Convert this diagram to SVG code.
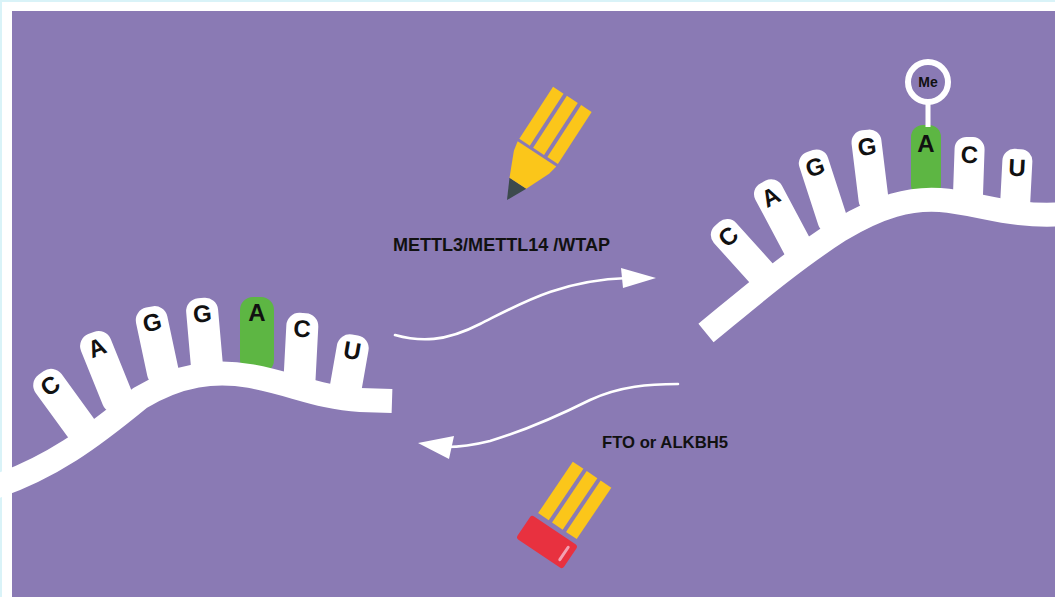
<svg xmlns="http://www.w3.org/2000/svg" width="1055" height="597" viewBox="0 0 1055 597">
  <defs>
    <style>
      .bb{fill:none;stroke:#fff;stroke-width:24;stroke-linecap:butt}
      .fw{fill:#fff}
      .fg{fill:#5db643}
      .nt{font-family:"Liberation Sans",Arial,sans-serif;font-weight:bold;font-size:24px;fill:#111;text-anchor:middle}
      .lbl{font-family:"Liberation Sans",Arial,sans-serif;font-weight:bold;fill:#111}
      .arr{fill:none;stroke:#fff;stroke-width:2.6;stroke-linecap:round}
      .yel{fill:#fbc61a}
    </style>
  </defs>

  <!-- background and frame -->
  <rect width="1055" height="597" fill="#8a7ab4"/>
  <path d="M0,0H1055V11H12V597H0Z" fill="#fff"/>
  <rect x="0" y="0" width="1055" height="2" fill="#d9f3f8"/>
  <rect x="0" y="0" width="2" height="597" fill="#d9f3f8"/>

  <!-- unmethylated RNA strand -->
  <g id="rna-left">
    <g transform="translate(41,373) rotate(-36)"><rect x="-16" y="0" width="32" height="80" rx="13" class="fw"/><text y="24" class="nt">C</text></g>
    <g transform="translate(91,333) rotate(-22)"><rect x="-16" y="0" width="32" height="84" rx="13" class="fw"/><text y="24" class="nt">A</text></g>
    <g transform="translate(149,307) rotate(-12)"><rect x="-16" y="0" width="32" height="80" rx="13" class="fw"/><text y="24" class="nt">G</text></g>
    <g transform="translate(201,298) rotate(-5)"><rect x="-16" y="0" width="32" height="80" rx="13" class="fw"/><text y="24" class="nt">G</text></g>
    <g transform="translate(257,297)"><rect x="-17" y="0" width="34" height="76" rx="13" class="fg"/><text y="24" class="nt">A</text></g>
    <g transform="translate(303,313) rotate(3)"><rect x="-16" y="0" width="32" height="80" rx="13" class="fw"/><text y="24" class="nt">C</text></g>
    <g transform="translate(355,335) rotate(10)"><rect x="-16" y="0" width="32" height="66" rx="13" class="fw"/><text y="24" class="nt">U</text></g>
    <path class="bb" d="M-15,490 C50,470 95,435 140,398 C180,374 215,370 250,376 C290,383 320,398 360,400 L392,401"/>
  </g>

  <!-- methylated RNA strand -->
  <g id="rna-right">
    <g transform="translate(717,224) rotate(-42)"><rect x="-15" y="0" width="30" height="82" rx="12" class="fw"/><text y="25" class="nt">C</text></g>
    <g transform="translate(763,182) rotate(-28)"><rect x="-15" y="0" width="30" height="88" rx="12" class="fw"/><text y="25" class="nt">A</text></g>
    <g transform="translate(810,151) rotate(-18)"><rect x="-15" y="0" width="30" height="85" rx="12" class="fw"/><text y="25" class="nt">G</text></g>
    <g transform="translate(865,130) rotate(-7)"><rect x="-15" y="0" width="30" height="82" rx="12" class="fw"/><text y="25" class="nt">G</text></g>
    <g transform="translate(926,125)"><rect x="-15" y="0" width="30" height="72" rx="12" class="fg"/><text y="27" class="nt">A</text></g>
    <g transform="translate(970,137) rotate(2)"><rect x="-15" y="0" width="30" height="75" rx="12" class="fw"/><text y="26" class="nt">C</text></g>
    <g transform="translate(1018,149) rotate(3)"><rect x="-15" y="0" width="30" height="70" rx="12" class="fw"/><text y="27" class="nt">U</text></g>
    <path class="bb" d="M706,333 C744,302 790,262 840,230 C880,206 910,198 940,200 C980,203 1010,218 1065,214"/>
    <!-- methyl tag -->
    <rect x="925.5" y="100" width="5" height="27" fill="#fff"/>
    <circle cx="928" cy="82" r="20" fill="#8a7ab4" stroke="#fff" stroke-width="6"/>
    <text x="928" y="87" class="lbl" font-size="14" text-anchor="middle">Me</text>
  </g>

  <!-- writer: pencil -->
  <g id="writer-pencil" transform="translate(507,200) rotate(33)">
    <polygon points="0,0 -10,-20 10,-20" fill="#3c4a4d"/>
    <polygon points="-10,-20 10,-20 21,-45 23,-55 -23,-55 -21,-45" class="yel"/>
    <rect x="-23" y="-120" width="12.5" height="62" class="yel"/>
    <rect x="-6.5" y="-120" width="13" height="62" class="yel"/>
    <rect x="10.5" y="-120" width="12.5" height="62" class="yel"/>
  </g>

  <!-- eraser: pencil end -->
  <g id="eraser" transform="translate(547,542) rotate(34)">
    <rect x="-23.5" y="-81" width="12.8" height="62" class="yel"/>
    <rect x="-6.7" y="-81" width="12.8" height="62" class="yel"/>
    <rect x="10.1" y="-81" width="12.9" height="62" class="yel"/>
    <rect x="-28" y="-14" width="56" height="28" rx="3" fill="#e8313f"/>
    <rect x="19" y="-9" width="3" height="18" rx="1.5" fill="#f3a1b2"/>
  </g>

  <!-- labels -->
  <g id="label-writers">
    <text x="393" y="251" class="lbl" font-size="18" textLength="217" lengthAdjust="spacingAndGlyphs">METTL3/METTL14 /WTAP</text>
  </g>
  <g id="label-erasers">
    <text x="602" y="448" class="lbl" font-size="17" textLength="126" lengthAdjust="spacingAndGlyphs">FTO or ALKBH5</text>
  </g>

  <!-- connectors -->
  <g id="connectors">
    <path class="arr" d="M395,335 C420,342 445,342 480,324 C520,304 560,280 628,278"/>
    <polygon points="656,278 621,268 623,288" fill="#fff"/>
    <path class="arr" d="M678,384 C650,384 620,386 590,400 C550,420 520,432 490,441 C470,446 460,447 446,447"/>
    <polygon points="418,443 454,436 449,459" fill="#fff"/>
  </g>
</svg>
